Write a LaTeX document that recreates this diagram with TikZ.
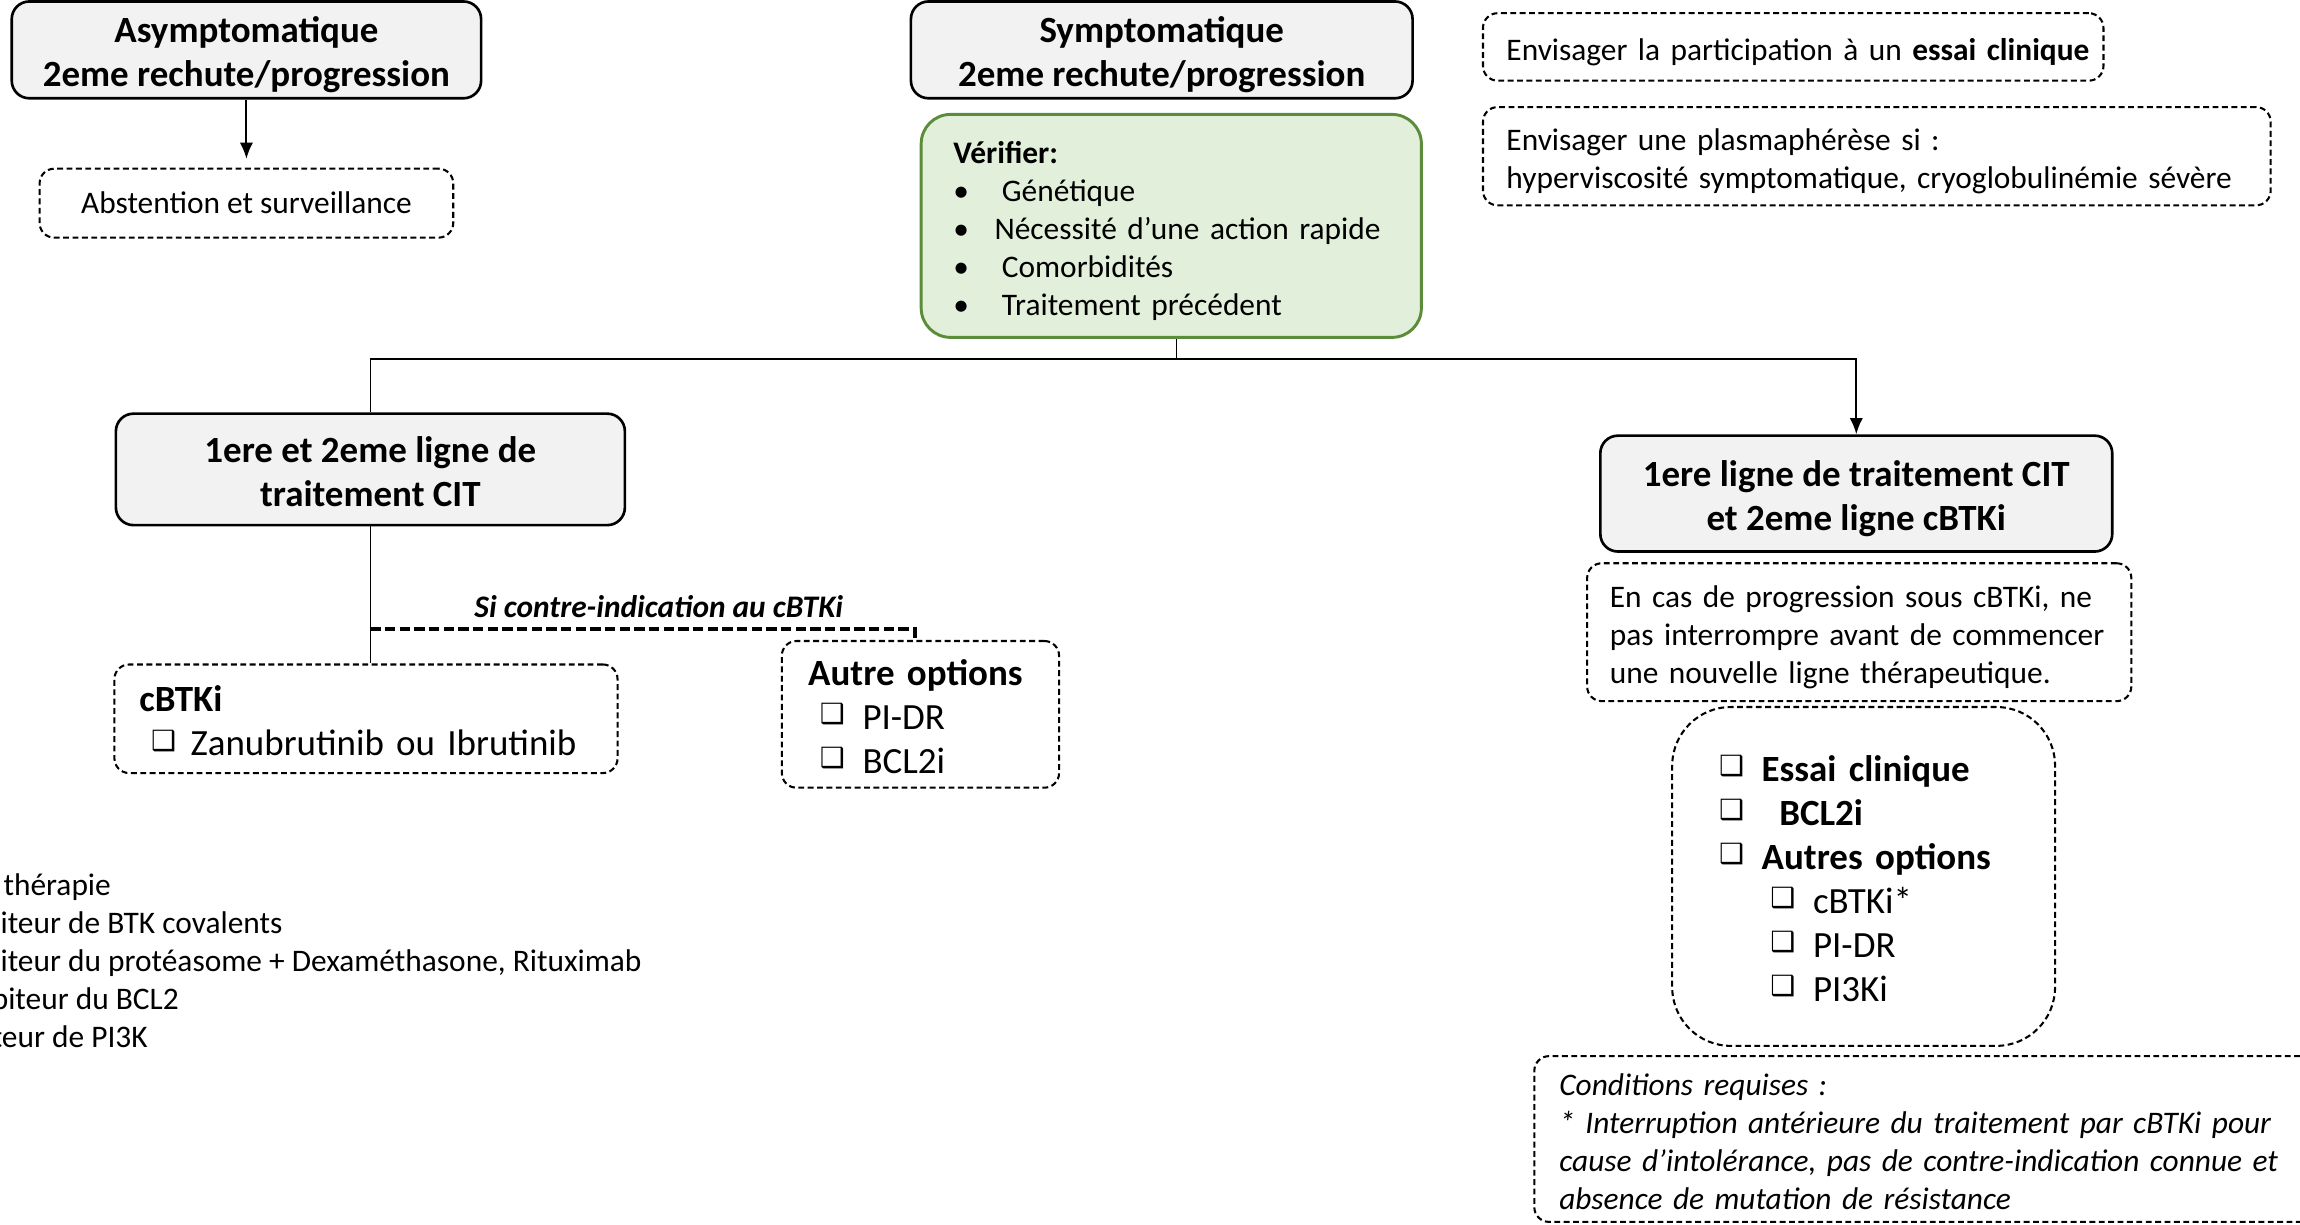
\documentclass[tikz,border=0pt]{standalone}
\usepackage{fontspec}
\setmainfont{Carlito}
\newfontfamily\dingfont{DejaVu Sans}
\usetikzlibrary{shapes,arrows,arrows.meta}
\definecolor{boxgray}{HTML}{F2F2F2}
\definecolor{checkfill}{HTML}{E2EFDA}
\definecolor{checkedge}{HTML}{5B8C3A}
\newcommand{\bodyfont}{\fontsize{10.7}{13}\selectfont}
\newcommand{\bigfont}{\fontsize{12.6}{15}\selectfont}
\newcommand{\titlefont}{\fontsize{12.6}{15}\selectfont\bfseries}
\newcommand{\sq}{\raisebox{1.8pt}{\dingfont\bfseries\fontsize{9.5}{9.5}\selectfont ❑}}
\newcommand{\opt}[1]{\makebox[#1][l]{\sq}}
\newcommand{\blt}[1]{\makebox[#1][l]{\textbullet}}
\newcommand{\block}[2][l]{\raisebox{-2pt}[\height][\depth]{\begin{tabular}{@{}#1@{}}#2\end{tabular}}}
\tikzstyle{head} = [rectangle, draw, line width=0.9pt, fill=boxgray, rounded corners=6pt, align=center, font=\titlefont, inner sep=0pt]
\tikzstyle{note} = [rectangle, draw, line width=0.7pt, dash pattern=on 2pt off 1.2pt, rounded corners=5pt, align=left, font=\bodyfont, inner ysep=0pt]
\tikzstyle{verify} = [rectangle, draw=checkedge, line width=1pt, fill=checkfill, rounded corners=10pt, align=left, font=\bodyfont, inner ysep=0pt]
\tikzstyle{line} = [draw, line width=0.7pt, -{Latex[length=5.5pt, width=4.5pt]}]
\tikzstyle{branch} = [draw, line width=0.6pt]
\tikzstyle{altline} = [draw, line width=1.4pt, dash pattern=on 3.5pt off 1.5pt]

\begin{document}
\begin{tikzpicture}[x=0.5pt, y=-0.5pt]
    \useasboundingbox (0,0) rectangle (1568,835);
    % Place nodes
    \node [head, minimum width=160pt, minimum height=33pt] (asym) at (168,34) {\block[c]{Asymptomatique\\2eme rechute/progression}};
    \node [note, align=center, minimum width=141pt, minimum height=23.5pt] (abst) at (168,138.5) {Abstention et surveillance};
    \node [head, minimum width=171pt, minimum height=33pt] (sympt) at (792,34) {\block[c]{Symptomatique\\2eme rechute/progression}};
    \node [verify, text width=148.5pt, inner xsep=11pt, minimum height=76pt] (verif) at (798.5,154) {\block{\textbf{Vérifier:}\\ \blt{16.5pt}Génétique\\ \blt{14pt}Nécessité d’une action rapide\\ \blt{16.5pt}Comorbidités\\ \blt{16.5pt}Traitement précédent}};
    \node [head, minimum width=173.5pt, minimum height=38pt] (cit) at (252.5,320) {\block[c]{1ere et 2eme ligne de\\traitement CIT}};
    \node [note, font=\bigfont, text width=154.5pt, inner xsep=8.5pt, minimum height=37pt] (cbtki) at (249.5,490) {\block{\textbf{cBTKi}\\ \hspace*{4pt}\opt{13.5pt}Zanubrutinib ou Ibrutinib}};
    \node [note, font=\bigfont, text width=76.5pt, inner xsep=9pt, minimum height=50pt] (autre) at (627.5,487) {\block{\textbf{Autre options}\\ \hspace*{4pt}\opt{14.5pt}PI-DR\\ \hspace*{4pt}\opt{14.5pt}BCL2i}};
    \node [note, text width=195.5pt, inner xsep=8pt, minimum height=23pt] (essai) at (1222.5,32) {\block{Envisager la participation à un \textbf{essai clinique}}};
    \node [note, text width=252.5pt, inner xsep=8pt, minimum height=33.5pt] (plasma) at (1279.5,106.5) {\block{Envisager une plasmaphérèse si :\\hyperviscosité symptomatique, cryoglobulinémie sévère}};
    \node [head, minimum width=174.5pt, minimum height=39.5pt] (cbtkir) at (1265.5,336.5) {\block[c]{1ere ligne de traitement CIT\\et 2eme ligne cBTKi}};
    \node [note, text width=170pt, inner xsep=7.75pt, minimum height=47pt] (progr) at (1267.5,431) {\block{En cas de progression sous cBTKi, ne\\pas interrompre avant de commencer\\une nouvelle ligne thérapeutique.}};
    \node [note, font=\bigfont, rounded corners=20pt, text width=98.5pt, inner xsep=16pt, minimum height=115.5pt] (opts) at (1270.5,597.5) {\block{\opt{14.5pt}\textbf{Essai clinique}\\ \opt{20.5pt}\textbf{BCL2i}\\ \opt{14.5pt}\textbf{Autres options}\\ \hspace*{17.5pt}\opt{14.5pt}cBTKi*\\ \hspace*{17.5pt}\opt{14.5pt}PI-DR\\ \hspace*{17.5pt}\opt{14.5pt}PI3Ki}};
    \node [note, font=\bodyfont\itshape, text width=249pt, inner xsep=8.5pt, minimum height=56.5pt] (cond) at (1312,776.5) {\block{Conditions requises :\\{*} Interruption antérieure du traitement par cBTKi pour\\cause d{\char"27}intolérance, pas de contre-indication connue et\\absence de mutation de résistance}};
    \node [align=left, font=\bodyfont, inner sep=0pt, anchor=west] (abbr) at (0,655) {\hspace*{1pt}thérapie\\iteur de BTK covalents\\iteur du protéasome + Dexaméthasone, Rituximab\\\hspace*{-3pt}biteur du BCL2\\\hspace*{-3pt}teur de PI3K};
    % Draw edges
    \coordinate (split) at ([xshift=1.75pt, yshift=-7pt]verif.south);
    \coordinate (fork) at ([yshift=-35pt]cit.south);
    \path [line, shorten >=3pt] (asym) -- (abst);
    \path [branch] (verif.south -| split) -- (split);
    \path [branch] (split) -| (cit.north);
    \path [line] (split) -| (cbtkir.north);
    \path [branch] (cit.south) -- (cit.south |- cbtki.north);
    \path [altline] (fork) -| ([xshift=-2pt]autre.north) node[pos=0.265, above, font=\bodyfont\bfseries\itshape] {Si contre-indication au cBTKi};
\end{tikzpicture}
\end{document}
